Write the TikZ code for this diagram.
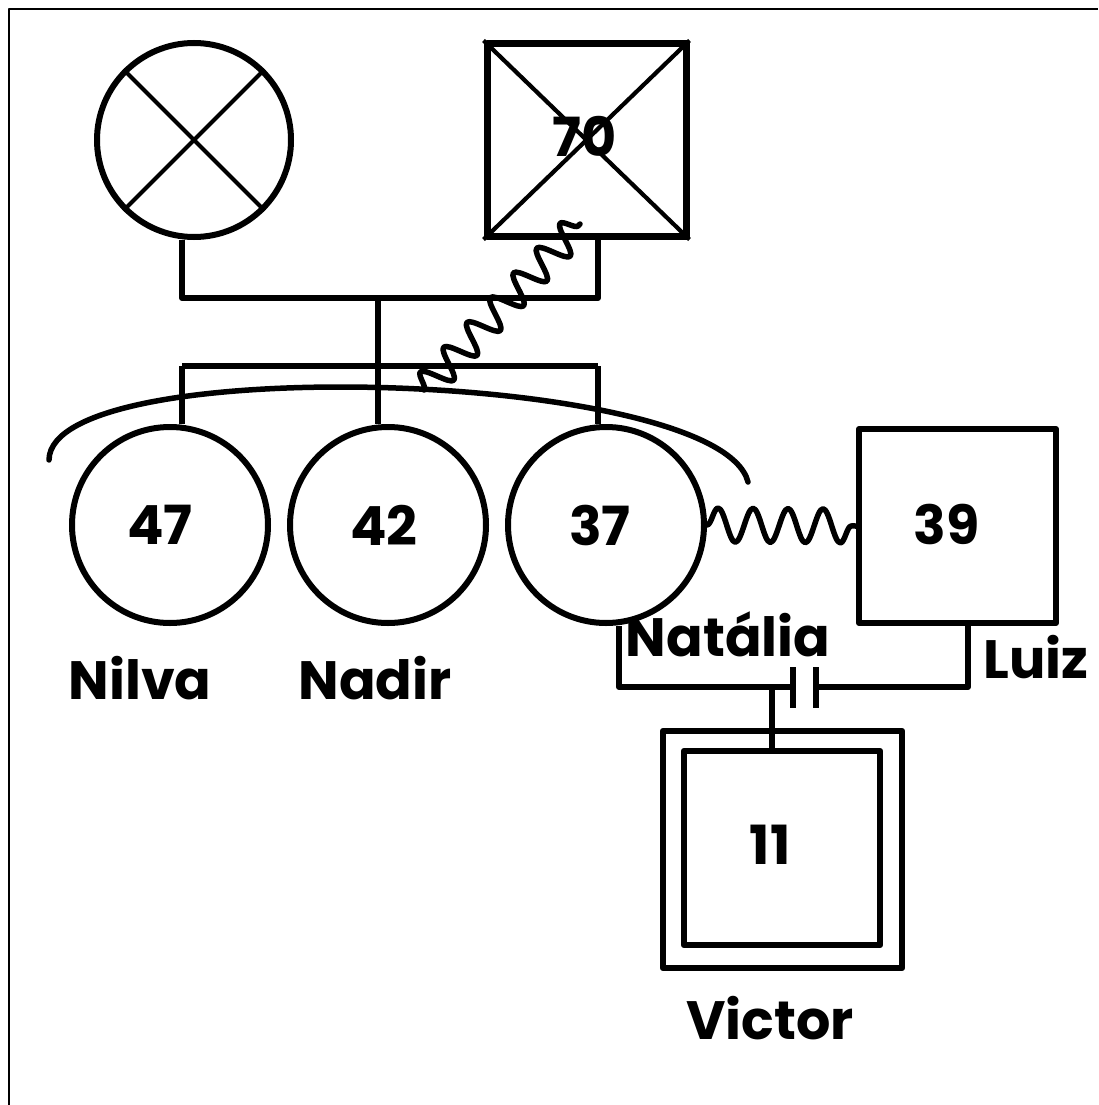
\documentclass[tikz,border=0pt]{standalone}
\usepackage{fontspec}
\setmainfont{Poppins}
\usetikzlibrary{decorations.pathmorphing}
\begin{document}
\begin{tikzpicture}[x=1pt,y=-1pt, line join=round,
  heavy/.style={line width=6pt},
  thinx/.style={line width=4.2pt},
  fem/.style={circle, draw, heavy, inner sep=0pt, minimum size=196pt},
  txt/.style={font=\fontsize{54}{60}\selectfont\bfseries, inner sep=0pt},
  zig/.style={line width=5.5pt, decorate, decoration={snake, segment length=#1, amplitude=15pt}}]
\useasboundingbox (0,0) rectangle (1098,1105);
\draw[line width=2.5pt] (9,1105) -- (9,9) -- (1098,9);

% grandparents
\node[circle, draw, heavy, inner sep=0pt, minimum size=194pt] (mom) at (194,140) {};
\draw[thinx] (mom.45) -- (mom.225) (mom.135) -- (mom.315);
\node[rectangle, draw, line width=7pt, inner sep=0pt, minimum width=199pt, minimum height=192pt] (dad) at (586.5,140) {};
\draw[thinx] (dad.north west) -- (dad.south east) (dad.north east) -- (dad.south west);
\node[txt] (dadage) at (585,136) {70};

% siblings
\node[fem] (nilva) at (170,525) {};
\node[txt] at ([xshift=-10pt]nilva.center) {47};
\node[fem] (nadir) at (388,525) {};
\node[txt] at ([xshift=-4pt]nadir.center) {42};
\node[fem] (natalia) at (606,525) {};
\node[txt] at ([xshift=-6pt]natalia.center) {37};
\node[rectangle, draw, heavy, inner sep=0pt, minimum width=197pt, minimum height=194pt] (luiz) at (957.5,526) {};
\node[txt] at ([xshift=-11pt,yshift=2pt]luiz.center) {39};

% names
\node[txt] (nNilva) at (140,678) {Nilva};
\node[txt] (nNadir) at (375,678) {Nadir};
\node[txt] (nNatalia) at (728,634) {Natália};
\node[txt] (nLuiz) at (1036,657) {Luiz};
\node[txt] (nVictor) at (770,1018) {Victor};

% parents line
\coordinate (mL) at (182,298);
\coordinate (mM) at (378,298);
\coordinate (mR) at (598,298);
\draw[heavy] (mom.south -| mL) -- (mL) -- (mR) -- (dad.south -| mR);
\coordinate (c1) at (182,366);
\coordinate (c2) at (378,366);
\coordinate (c3) at (598,366);
\draw[heavy] (c1) -- (c3);
\draw[heavy] (c1) -- (nilva.north -| c1);
\draw[heavy] (mM) -- (nadir.north -| c2);
\draw[heavy] (c3) -- (natalia.north -| c3);

% arc around siblings
\draw[line width=5.5pt, line cap=round] (49,460) .. controls (50,350) and (720,370) .. (748,482);

% conflict lines
\coordinate (z1) at (424,390);
\coordinate (z2) at (580,224);
\draw[zig=34pt, line cap=round] (z1) -- (z2);
\draw[zig=35pt, decoration={amplitude=17pt}, line cap=round] (natalia.east) -- (luiz.west);

% marriage
\coordinate (mw1) at (619,687);
\coordinate (mw2) at (968,687);
\coordinate (d1) at (793,687);
\coordinate (d2) at (816,687);
\draw[heavy] (natalia.south -| mw1) -- (mw1) -- (d1);
\draw[heavy] (d2) -- (mw2) -- (luiz.south -| mw2);
\draw[heavy] (793,667) -- (793,708) (816,667) -- (816,708);

% child
\node[rectangle, draw, line width=6.5pt, inner sep=0pt, minimum width=239pt, minimum height=237pt] (victor) at (782.5,849.5) {};
\node[rectangle, draw, line width=6.5pt, inner sep=0pt, minimum width=196pt, minimum height=194pt] (victorin) at (782,848) {};
\node[txt] at (770,845) {11};
\coordinate (ch) at (772,687);
\draw[heavy] (ch) -- (victorin.north -| ch);
\end{tikzpicture}
\end{document}
